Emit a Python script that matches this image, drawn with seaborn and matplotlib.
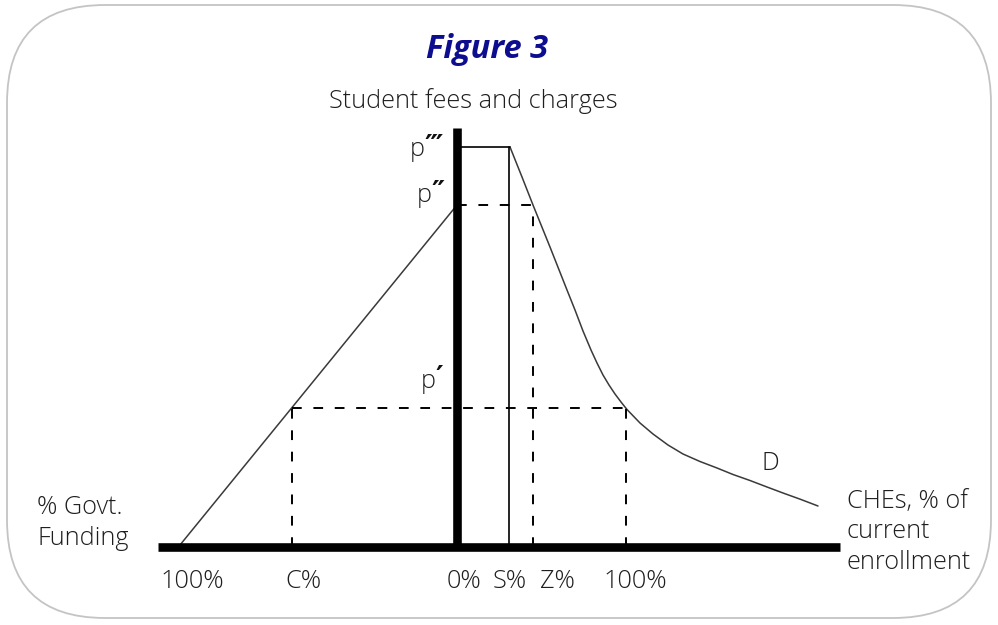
import matplotlib.pyplot as plt
import matplotlib.patches as mpatches
import matplotlib.transforms as mtransforms
import seaborn as sns
import pandas as pd

# schematic units: 1 unit ~ 1 px, origin where the two axes cross
demand_x = [53, 65, 76, 93, 110, 118, 126, 134, 140, 146, 152, 158, 164, 170,
            183, 196, 211, 226, 243, 260, 276, 293, 310, 326, 344, 361]
demand_y = [400, 370, 342, 300, 257, 237, 216, 197, 184, 172, 162, 153, 145, 137.5,
            124, 113, 102, 93, 85.5, 79, 72.5, 66.5, 60, 54, 47.5, 41]

funding_x = [-277, 0]
funding_y = [2, 342]

p1, p2, p3 = 139, 342, 400          # p', p'', p'''
c_pct, s_pct, z_pct, full_pct = -165, 52, 76, 169

primes = ["\u2032", "\u2033", "\u2034"]
tick_labels = ["100%", "C%", "0%", "S%", "Z%", "100%"]
tick_pos = [-265, -154, 7, 53, 100, 178]

sns.set_style("white")
plt.rcParams["font.family"] = ["Open Sans", "DejaVu Sans"]

fig = plt.figure(figsize=(9.98, 6.25), dpi=100)
ax = fig.add_axes([0, 0, 1, 1])
ax.set_xlim(-457, 541)
ax.set_ylim(-78, 547)
ax.axis("off")

# rounded frame
frame = mpatches.FancyBboxPatch((7, 7), 984, 613, boxstyle="round,pad=0,rounding_size=98",
                                transform=mtransforms.IdentityTransform(),
                                fc="none", ec="#c4c4c4", lw=1.3)
fig.add_artist(frame)

# axes
ax.plot([-299, 383], [0, 0], color="black", lw=6.2, solid_capstyle="butt", zorder=4)
ax.plot([0, 0], [0, 419], color="black", lw=6.2, solid_capstyle="butt", zorder=4)

# demand curve and govt funding line
df = pd.DataFrame({"x": demand_x, "y": demand_y})
sns.lineplot(data=df, x="x", y="y", ax=ax, color="#3a3a3a", lw=1.1, sort=False)
sns.lineplot(x=funding_x, y=funding_y, ax=ax, color="#3a3a3a", lw=1.1)

# solid guides
ax.plot([0, demand_x[0]], [p3, p3], color="black", lw=1.2)
ax.plot([s_pct, s_pct], [0, p3], color="black", lw=1.2)

# dashed guides
dash = dict(color="black", lw=1.4, linestyle=(0, (5, 6)))
ax.plot([0, z_pct], [p2, p2], **dash)
ax.plot([z_pct, z_pct], [0, p2], **dash)
ax.plot([c_pct, full_pct], [p1, p1], **dash)
ax.plot([c_pct, c_pct], [0, p1], **dash)
ax.plot([full_pct, full_pct], [0, p1], **dash)

fs = 18.2
txt = dict(fontsize=fs, color="#1e1e1e", fontweight="light")

# price labels: plain p followed by heavy primes
for pr, yv, xp in zip(primes, [166, 351, 397], [-21, -25, -32]):
    ax.text(xp, yv, "p", ha="right", va="center", **txt)
    ax.text(xp - 1, yv + 3, pr, ha="left", va="center", fontsize=fs + 3, color="#111111",
            fontweight="bold", family="DejaVu Sans")

for lab, xv in zip(tick_labels, tick_pos):
    ax.text(xv, -34, lab, ha="center", va="center", **txt)

ax.text(-420, 24, "% Govt.\nFunding", ha="left", va="center", linespacing=1.3, **txt)
ax.text(390, 15, "CHEs, % of\ncurrent\nenrollment", ha="left", va="center", linespacing=1.3, **txt)
ax.text(313, 84, "D", ha="center", va="center", **txt)
ax.text(16, 446, "Student fees and charges", ha="center", va="center", **txt)
ax.text(30, 497, "Figure 3", ha="center", va="center", fontsize=23.5, fontweight="bold",
        fontstyle="italic", color="#0d0d8f")

fig.savefig("out.png", dpi=100)
